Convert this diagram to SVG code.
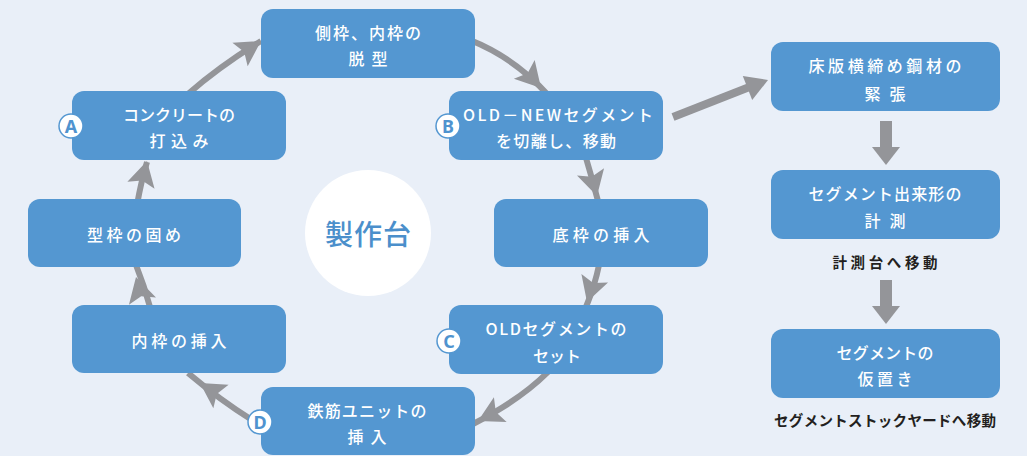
<svg xmlns="http://www.w3.org/2000/svg" width="1027" height="456" viewBox="0 0 1027 456">
<defs>
<style>
.box{fill:#5497d1;}
.t{fill:#ffffff;font-family:"Noto Sans CJK JP","Noto Sans",sans-serif;font-size:16px;font-weight:500;text-anchor:middle;dominant-baseline:central;}
.lbl{fill:#231f20;font-family:"Noto Sans CJK JP","Noto Sans",sans-serif;font-size:14.5px;font-weight:700;text-anchor:middle;dominant-baseline:central;}
.arc{fill:none;stroke:#949599;stroke-width:6;}
.head{fill:#949599;}
.bdg{fill:#ffffff;stroke:#5497d1;stroke-width:1.5;}
.bt{fill:#4f93cf;font-family:"Noto Sans","DejaVu Sans",sans-serif;font-size:18px;font-weight:700;text-anchor:middle;dominant-baseline:central;}
</style>
<path id="ah" d="M0,0 L-25,-14 L-20,0 L-25,14 Z"/>
</defs>
<rect width="1027" height="456" fill="#e9eff8"/>

<g id="connectors">
<path class="arc" d="M137,205 Q141,182 147,162"/>
<path class="arc" d="M188,94 Q220,66 261,41"/>
<path class="arc" d="M470,40 Q515,58 548,95"/>
<path class="arc" d="M586,158 Q592,178 598,201"/>
<path class="arc" d="M599,265 Q595,285 586,307"/>
<path class="arc" d="M548,372 Q520,400 473,424"/>
<path class="arc" d="M252,420 Q220,400 188,373"/>
<path class="arc" d="M150,307 Q144,285 136,265"/>
<use href="#ah" class="head" transform="translate(147,161) rotate(-76)"/>
<use href="#ah" class="head" transform="translate(261,41) rotate(-33)"/>
<use href="#ah" class="head" transform="translate(541,88) rotate(48)"/>
<use href="#ah" class="head" transform="translate(597,196) rotate(75)"/>
<use href="#ah" class="head" transform="translate(587,302) rotate(108)"/>
<use href="#ah" class="head" transform="translate(478,421) rotate(153)"/>
<use href="#ah" class="head" transform="translate(200,383) rotate(213)"/>
<use href="#ah" class="head" transform="translate(136,277) rotate(-105)"/>
<line x1="673" y1="117" x2="752" y2="86" stroke="#949599" stroke-width="8"/>
<polygon class="head" points="768,80 752.2,100.1 742.8,75.9"/>
<rect class="head" x="880" y="121" width="12" height="27"/>
<polygon class="head" points="872,147 900,147 886,165"/>
<rect class="head" x="880" y="280" width="12" height="27"/>
<polygon class="head" points="872,306 900,306 886,324"/>
</g>

<g id="center">
<circle cx="368" cy="233" r="63" fill="#ffffff"/>
<text x="368" y="233" fill="#4b8fcb" font-family="'Noto Sans CJK JP',sans-serif" font-size="28" font-weight="500" text-anchor="middle" dominant-baseline="central" textLength="86" lengthAdjust="spacing">製作台</text>
</g>

<g id="n-datsukei">
<rect class="box" x="261" y="9" width="214" height="69" rx="12"/>
<text class="t" x="368" y="32" textLength="106" lengthAdjust="spacing">側枠、内枠の</text>
<text class="t" x="368" y="58" textLength="39" lengthAdjust="spacing">脱型</text>
</g>

<g id="n-A">
<rect class="box" x="72" y="91" width="214" height="69" rx="12"/>
<text class="t" x="179" y="114" textLength="112" lengthAdjust="spacing">コンクリートの</text>
<text class="t" x="179" y="140" textLength="59" lengthAdjust="spacing">打込み</text>
<circle class="bdg" cx="71" cy="126" r="12"/>
<text class="bt" x="71" y="126">A</text>
</g>

<g id="n-B">
<rect class="box" x="449" y="91" width="214" height="69" rx="12"/>
<text class="t" x="558" y="114" textLength="190" lengthAdjust="spacing">OLD－NEWセグメント</text>
<text class="t" x="556" y="140" textLength="120" lengthAdjust="spacing">を切離し、移動</text>
<circle class="bdg" cx="448" cy="126" r="12"/>
<text class="bt" x="448" y="126">B</text>
</g>

<g id="n-katawaku">
<rect class="box" x="28" y="199" width="213" height="68" rx="12"/>
<text class="t" x="134" y="234" textLength="94" lengthAdjust="spacing">型枠の固め</text>
</g>

<g id="n-sokowaku">
<rect class="box" x="494" y="199" width="214" height="68" rx="12"/>
<text class="t" x="601" y="234" textLength="97" lengthAdjust="spacing">底枠の挿入</text>
</g>

<g id="n-uchiwaku">
<rect class="box" x="72" y="305" width="214" height="68" rx="12"/>
<text class="t" x="179" y="340" textLength="95" lengthAdjust="spacing">内枠の挿入</text>
</g>

<g id="n-C">
<rect class="box" x="449" y="305" width="214" height="69" rx="12"/>
<text class="t" x="556" y="328" textLength="141" lengthAdjust="spacing">OLDセグメントの</text>
<text class="t" x="557" y="355" textLength="48" lengthAdjust="spacing">セット</text>
<circle class="bdg" cx="449" cy="341" r="12"/>
<text class="bt" x="449" y="341">C</text>
</g>

<g id="n-D">
<rect class="box" x="261" y="387" width="214" height="68" rx="12"/>
<text class="t" x="367" y="410" textLength="119" lengthAdjust="spacing">鉄筋ユニットの</text>
<text class="t" x="367" y="436" textLength="39" lengthAdjust="spacing">挿入</text>
<circle class="bdg" cx="260" cy="422" r="12"/>
<text class="bt" x="260" y="422">D</text>
</g>

<g id="n-kinchou">
<rect class="box" x="771" y="42" width="229" height="69" rx="12"/>
<text class="t" x="885" y="65" textLength="153" lengthAdjust="spacing">床版横締め鋼材の</text>
<text class="t" x="885" y="93" textLength="41" lengthAdjust="spacing">緊張</text>
</g>

<g id="n-keisoku">
<rect class="box" x="771" y="170" width="229" height="69" rx="12"/>
<text class="t" x="885" y="193" textLength="153" lengthAdjust="spacing">セグメント出来形の</text>
<text class="t" x="885" y="220" textLength="41" lengthAdjust="spacing">計測</text>
</g>

<g id="n-karioki">
<rect class="box" x="771" y="329" width="229" height="69" rx="12"/>
<text class="t" x="885" y="352" textLength="97" lengthAdjust="spacing">セグメントの</text>
<text class="t" x="885" y="378" textLength="55" lengthAdjust="spacing">仮置き</text>
</g>

<g id="labels">
<text class="lbl" x="885" y="261" textLength="105" lengthAdjust="spacing">計測台へ移動</text>
<text class="lbl" x="885" y="419" textLength="222" lengthAdjust="spacing">セグメントストックヤードへ移動</text>
</g>
</svg>
